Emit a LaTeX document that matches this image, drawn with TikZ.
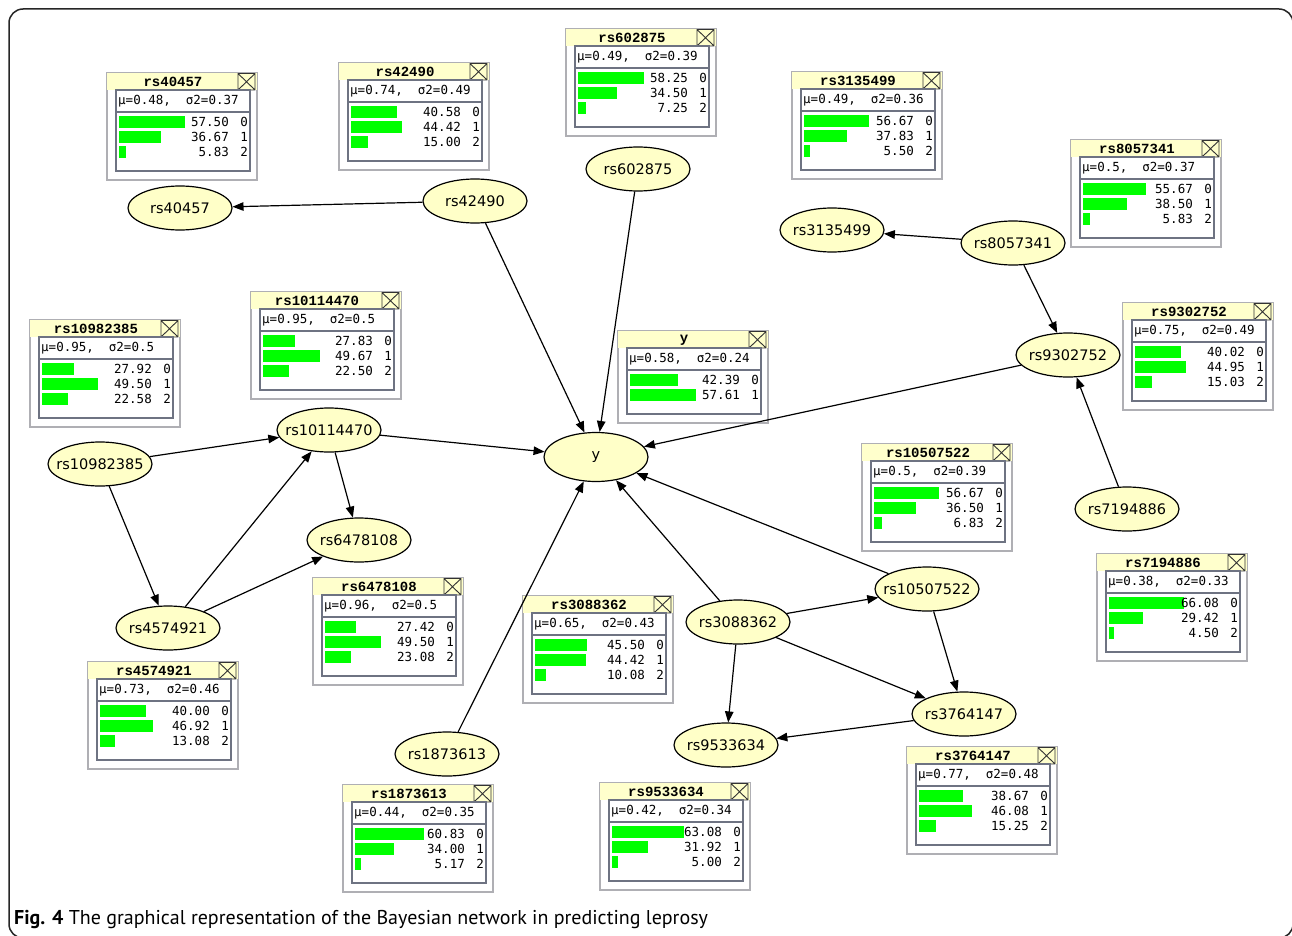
\documentclass[tikz,border=0pt]{standalone}
\usepackage{fontspec}
\setmainfont{Liberation Sans}
\newfontfamily\nodefont{DejaVu Sans}
\newfontfamily\boxfont{DejaVu Sans Mono}
\newfontfamily\titlefont{Liberation Mono}
\newfontfamily\capfont{PT Sans}
\usetikzlibrary{shapes.geometric,arrows.meta}

\definecolor{nodeyellow}{RGB}{255,255,200}
\definecolor{titleyellow}{RGB}{255,255,204}
\definecolor{bargreen}{RGB}{0,255,0}
\definecolor{outergray}{RGB}{175,175,180}
\definecolor{innergray}{RGB}{110,115,130}

\tikzset{
  bn/.style={ellipse, draw=black, line width=1.2pt, fill=nodeyellow,
    minimum width=104pt, minimum height=44pt, inner sep=0pt,
    font=\nodefont\fontsize{14.5}{16}\selectfont},
  edge/.style={draw=black, line width=1.2pt, -{Triangle[length=11pt,width=8.5pt]}},
  boxouter/.style={draw=outergray, line width=1.3pt, fill=white},
  boxinner/.style={draw=innergray, line width=1.1pt},
  boxtitle/.style={font=\titlefont\bfseries\fontsize{14}{15}\selectfont, inner sep=0pt},
  boxtext/.style={font=\boxfont\fontsize{12.5}{14}\selectfont, inner sep=0pt},
  xicon/.style={draw=black!80, line width=0.9pt},
  frame/.style={draw=black!85, line width=1.5pt, rounded corners=14pt},
  captext/.style={font=\capfont\fontsize{20}{22}\selectfont, inner sep=0pt}
}

% #1 title/id, #2 x0, #3 y0, #4 mu, #5 sigma, #6 rows, #7 list value/state
\newcommand{\monbox}[7]{%
\begin{scope}[shift={(#2,#3)}]
  \pgfmathsetmacro\pbot{34+15*#6+19}
  \pgfmathsetmacro\obot{\pbot+9}
  \draw[boxouter] (0,0) rectangle (150,\obot);
  \fill[titleyellow] (0,0) rectangle (150,17);
  \node[boxtitle] (#1-title) at (66,9) {#1};
  \draw[xicon] (131,0.5) rectangle (148,17) (131,0.5) -- (148,17) (131,17) -- (148,0.5);
  \draw[boxinner, fill=white] (9,17) rectangle (143,\pbot);
  \node[boxtext, anchor=west] (#1-stat) at (11,28) {μ=#4,\ \ σ2=#5};
  \draw[boxinner] (9,39) -- (143,39);
  \foreach \v/\s [count=\i] in {#7} {
    \pgfmathsetmacro\yy{34+15*\i}
    \fill[bargreen] (12,\yy-6) rectangle ++(\v*1.14,12);
    \node[boxtext, anchor=east] at (122,\yy) {\v};
    \node[boxtext, anchor=east] at (141,\yy) {\s};
  }
\end{scope}}

\begin{document}
\begin{tikzpicture}[x=1pt,y=-1pt]
\useasboundingbox (0,0) rectangle (1292,936);
\fill[white] (0,0) rectangle (1292,936);
\draw[frame] (9,9) rectangle (1293,938);

% monitor boxes
\monbox{rs40457}{107}{73}{0.48}{0.37}{3}{57.50/0,36.67/1,5.83/2}
\monbox{rs42490}{339}{63}{0.74}{0.49}{3}{40.58/0,44.42/1,15.00/2}
\monbox{rs602875}{566}{29}{0.49}{0.39}{3}{58.25/0,34.50/1,7.25/2}
\monbox{rs3135499}{792}{72}{0.49}{0.36}{3}{56.67/0,37.83/1,5.50/2}
\monbox{rs8057341}{1071}{140}{0.5}{0.37}{3}{55.67/0,38.50/1,5.83/2}
\monbox{rs9302752}{1123}{303}{0.75}{0.49}{3}{40.02/0,44.95/1,15.03/2}
\monbox{rs10982385}{30}{320}{0.95}{0.5}{3}{27.92/0,49.50/1,22.58/2}
\monbox{rs10114470}{251}{292}{0.95}{0.5}{3}{27.83/0,49.67/1,22.50/2}
\monbox{y}{618}{331}{0.58}{0.24}{2}{42.39/0,57.61/1}
\monbox{rs10507522}{862}{444}{0.5}{0.39}{3}{56.67/0,36.50/1,6.83/2}
\monbox{rs7194886}{1097}{554}{0.38}{0.33}{3}{66.08/0,29.42/1,4.50/2}
\monbox{rs6478108}{313}{578}{0.96}{0.5}{3}{27.42/0,49.50/1,23.08/2}
\monbox{rs3088362}{523}{596}{0.65}{0.43}{3}{45.50/0,44.42/1,10.08/2}
\monbox{rs4574921}{88}{662}{0.73}{0.46}{3}{40.00/0,46.92/1,13.08/2}
\monbox{rs3764147}{907}{747}{0.77}{0.48}{3}{38.67/0,46.08/1,15.25/2}
\monbox{rs1873613}{343}{785}{0.44}{0.35}{3}{60.83/0,34.00/1,5.17/2}
\monbox{rs9533634}{600}{783}{0.42}{0.34}{3}{63.08/0,31.92/1,5.00/2}

% network nodes
\node[bn] (rs40457) at (180,208) {\makebox[0pt]{rs40457}};
\node[bn] (rs42490) at (475,201) {\makebox[0pt]{rs42490}};
\node[bn] (rs602875) at (638,169) {\makebox[0pt]{rs602875}};
\node[bn] (rs3135499) at (832,230) {\makebox[0pt]{rs3135499}};
\node[bn] (rs8057341) at (1013,243) {\makebox[0pt]{rs8057341}};
\node[bn] (rs9302752) at (1068,355) {\makebox[0pt]{rs9302752}};
\node[bn] (rs7194886) at (1127,509) {\makebox[0pt]{rs7194886}};
\node[bn, minimum height=49pt] (y) at (596,457) {\makebox[0pt]{y}};
\node[bn] (rs10982385) at (100,464) {\makebox[0pt]{rs10982385}};
\node[bn] (rs10114470) at (329,430) {\makebox[0pt]{rs10114470}};
\node[bn] (rs6478108) at (359,540) {\makebox[0pt]{rs6478108}};
\node[bn] (rs4574921) at (168,628) {\makebox[0pt]{rs4574921}};
\node[bn] (rs1873613) at (447,754) {\makebox[0pt]{rs1873613}};
\node[bn] (rs3088362) at (738,622) {\makebox[0pt]{rs3088362}};
\node[bn] (rs10507522) at (927,589) {\makebox[0pt]{rs10507522}};
\node[bn] (rs3764147) at (964,714) {\makebox[0pt]{rs3764147}};
\node[bn] (rs9533634) at (726,745) {\makebox[0pt]{rs9533634}};

% edges
\draw[edge] (rs42490) -- (rs40457);
\draw[edge] (rs42490) -- (y);
\draw[edge] (rs602875) -- (y);
\draw[edge] (rs8057341) -- (rs3135499);
\draw[edge] (rs8057341) -- (rs9302752);
\draw[edge] (rs9302752) -- (y);
\draw[edge] (rs7194886) -- (rs9302752);
\draw[edge] (rs10982385) -- (rs10114470);
\draw[edge] (rs10982385) -- (rs4574921);
\draw[edge] (rs10114470) -- (y);
\draw[edge] (rs10114470) -- (rs6478108);
\draw[edge] (rs4574921) -- (rs10114470);
\draw[edge] (rs4574921) -- (rs6478108);
\draw[edge] (rs1873613) -- (y);
\draw[edge] (rs3088362) -- (y);
\draw[edge] (rs10507522) -- (y);
\draw[edge] (rs3088362) -- (rs10507522);
\draw[edge] (rs3088362) -- (rs3764147);
\draw[edge] (rs3088362) -- (rs9533634);
\draw[edge] (rs10507522) -- (rs3764147);
\draw[edge] (rs3764147) -- (rs9533634);

% caption
\node[captext, anchor=base west] (caption) at (14,924)
  {\textbf{Fig. 4} The graphical representation of the Bayesian network in predicting leprosy};
\end{tikzpicture}
\end{document}
